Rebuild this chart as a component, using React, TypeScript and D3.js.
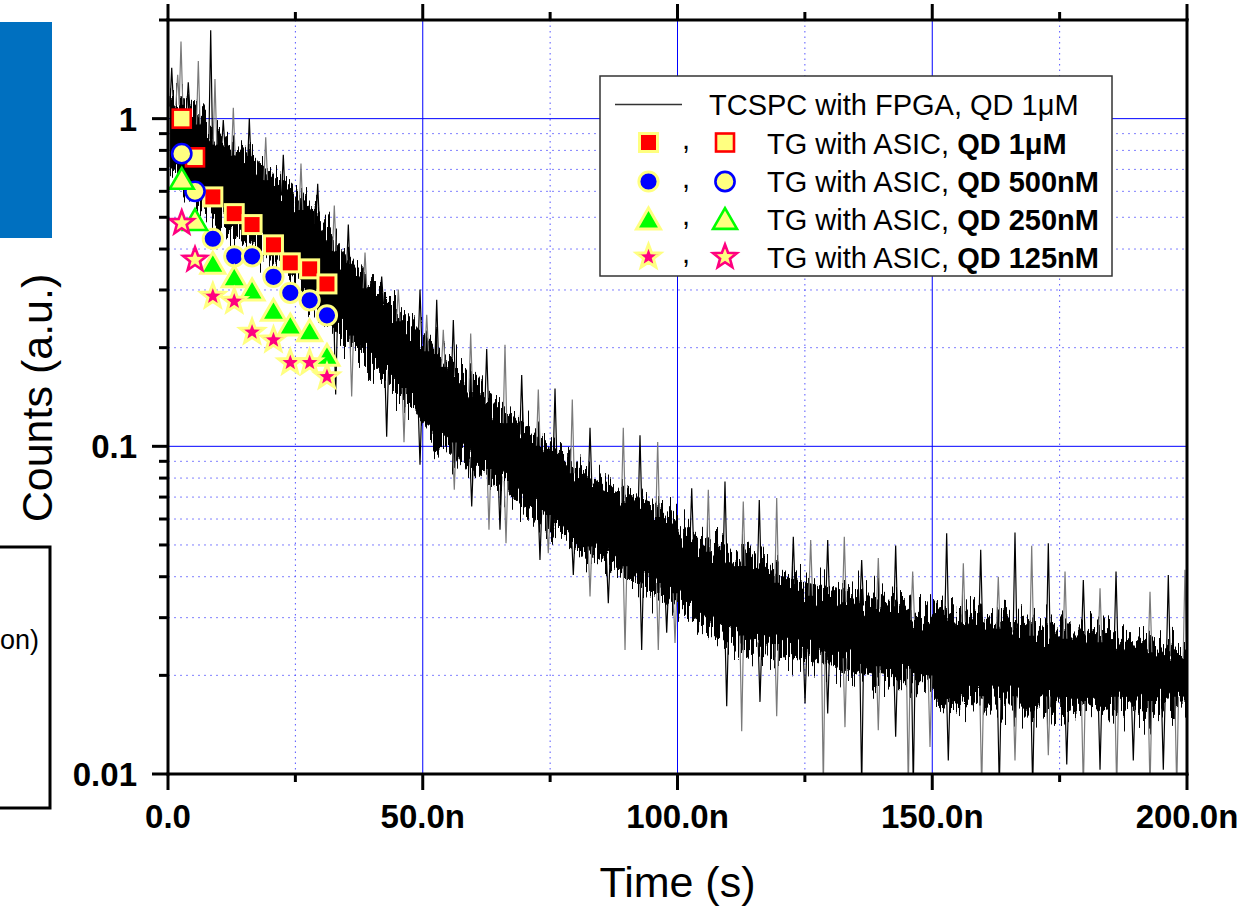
import React from 'react';
import * as d3 from 'd3';

// ---- TCSPC trace: dense band edges, time in ns ----
const bandTime = [0.4, 2.7, 9.2, 15.7, 22.4, 28.9, 35.3, 42.0, 48.5, 51.4, 59.3, 65.8, 72.4, 78.9, 85.4, 92.0, 98.5, 101.5, 109.3, 115.8, 122.5, 129.0, 135.4, 142.1, 148.6, 151.5, 159.4, 165.8, 172.5, 179.0, 185.5, 192.1, 198.6, 200];
const bandHigh = [1.18, 1.2, 0.906, 0.787, 0.638, 0.527, 0.371, 0.294, 0.232, 0.207, 0.16, 0.129, 0.11, 0.091, 0.0774, 0.0701, 0.064, 0.0556, 0.0493, 0.045, 0.0391, 0.0372, 0.0357, 0.034, 0.031, 0.0324, 0.031, 0.0295, 0.0281, 0.0281, 0.027, 0.0257, 0.0244, 0.0244];
const bandLow = [0.713, 0.638, 0.481, 0.418, 0.363, 0.261, 0.207, 0.163, 0.129, 0.11, 0.0866, 0.0737, 0.0609, 0.0507, 0.0429, 0.0383, 0.034, 0.031, 0.0257, 0.0234, 0.0228, 0.0218, 0.0203, 0.0194, 0.0194, 0.0168, 0.016, 0.016, 0.016, 0.0154, 0.016, 0.0154, 0.016, 0.016];

// spikes standing out of the band (time ns, value)
const spikeTime = [2.55, 0.73, 1.9, 3.98, 5.95, 8.38, 9.22, 10.85, 12.82, 15.96, 19.18, 22.63, 26.1, 29.38, 32.64, 35.39, 38.67, 41.94, 45.2, 49.46, 50.78, 52.74, 54.03, 56.0, 59.41, 62.55, 66.14, 69.42, 72.68, 75.96, 79.35, 82.83, 89.36, 92.64, 96.11, 102.79, 106.05, 109.32, 112.91, 116.05, 119.47, 122.73, 126.14, 129.48, 132.74, 136.15, 139.41, 142.82, 146.16, 152.83, 156.1, 159.51, 162.96, 166.24, 169.52, 172.78, 176.06, 179.65, 182.93, 186.07, 192.74, 196.33, 199.6,
  32.91, 36.05, 42.92, 46.32, 49.46, 56.19, 59.61, 63.0, 65.16, 66.34, 73.01, 74.64, 79.55, 82.83, 86.42, 89.7, 92.97, 96.23, 97.88, 99.51, 109.66, 112.6, 116.19, 119.47, 125.03, 128.62, 129.48, 132.87, 136.15, 139.41, 142.82, 145.3, 146.28, 149.56, 153.15, 159.7, 163.16, 166.24, 169.71, 172.78, 176.4, 179.65, 182.93, 186.2, 189.46, 192.74, 195.35, 197.98];
const spikeValue = [1.72, 1.43, 1.36, 1.29, 1.5, 1.86, 1.32, 0.99, 1.08, 1.0, 0.877, 0.776, 0.729, 0.633, 0.543, 0.475, 0.39, 0.33, 0.301, 0.301, 0.252, 0.28, 0.227, 0.243, 0.221, 0.198, 0.204, 0.165, 0.149, 0.15, 0.139, 0.114, 0.114, 0.108, 0.103, 0.0745, 0.0737, 0.0781, 0.0678, 0.0686, 0.0695, 0.053, 0.0518, 0.0518, 0.053, 0.045, 0.0456, 0.0498, 0.0415, 0.0543, 0.044, 0.0483, 0.04, 0.0546, 0.0497, 0.0506, 0.0415, 0.0391, 0.0369, 0.0415, 0.036, 0.0405, 0.042,
  0.144, 0.142, 0.107, 0.103, 0.0878, 0.0737, 0.0655, 0.0556, 0.0556, 0.0506, 0.045, 0.0472, 0.0405, 0.0348, 0.0332, 0.0239, 0.0239, 0.0239, 0.027, 0.0251, 0.0161, 0.0135, 0.0166, 0.015, 0.0164, 0.009, 0.0153, 0.0139, 0.009, 0.0136, 0.013, 0.009, 0.009, 0.0121, 0.011, 0.009, 0.009, 0.011, 0.009, 0.0114, 0.0107, 0.009, 0.0103, 0.009, 0.011, 0.009, 0.0103, 0.009];

// ---- time-gated (TG) ASIC points ----
const gateTime = [2.7, 5.3, 8.8, 13.0, 16.5, 20.7, 24.0, 27.8, 31.2];
const qd1uM = [1.0, 0.762, 0.577, 0.513, 0.475, 0.412, 0.363, 0.348, 0.313];
const qd500nM = [0.782, 0.6, 0.43, 0.38, 0.38, 0.329, 0.294, 0.279, 0.251];
const qd250nM = [0.657, 0.492, 0.363, 0.33, 0.301, 0.261, 0.235, 0.226, 0.19];
const qd125nM = [0.48, 0.371, 0.287, 0.277, 0.223, 0.211, 0.18, 0.18, 0.163];
const openCount = 2;

const seriesNames = ['QD 1\u03bcM', 'QD 500nM', 'QD 250nM', 'QD 125nM'];
const seriesShapes = ['square', 'circle', 'triangle', 'star'];
const seriesColors = ['#FF0000', '#0000FF', '#00FF00', '#FF0080'];
const seriesValues = [qd1uM, qd500nM, qd250nM, qd125nM];

const xMajor = [0, 50, 100, 150, 200];
const xMinor = [25, 75, 125, 175];
const xLabels = ['0.0', '50.0n', '100.0n', '150.0n', '200.0n'];
const yMajor = [0.01, 0.1, 1];
const yLabels = ['0.01', '0.1', '1'];
const yMinor = [0.02, 0.03, 0.04, 0.05, 0.06, 0.07, 0.08, 0.09, 0.2, 0.3, 0.4, 0.5, 0.6, 0.7, 0.8, 0.9, 2];

const FONT = "Arial, 'Liberation Sans', Helvetica, sans-serif";
const YELLOW = '#FFFF80';

const L = 168, R = 1187, T = 20, B = 774;

function starPath(Ro: number, Ri: number) {
  const pts: string[] = [];
  for (let i = 0; i < 10; i++) {
    const a = -Math.PI / 2 + (i * Math.PI) / 5;
    const r = i % 2 ? Ri : Ro;
    pts.push(`${(r * Math.cos(a)).toFixed(2)},${(r * Math.sin(a)).toFixed(2)}`);
  }
  return 'M' + pts.join('L') + 'Z';
}

function Marker({ shape, color, filled, x, y }: { shape: string; color: string; filled: boolean; x: number; y: number }) {
  const fill = filled ? color : YELLOW;
  const stroke = filled ? YELLOW : color;
  const sw = filled ? 3 : 2.6;
  if (shape === 'square') return <rect x={x - 9} y={y - 9} width={18} height={18} fill={fill} stroke={stroke} strokeWidth={sw} />;
  if (shape === 'circle') return <circle cx={x} cy={y} r={9.6} fill={fill} stroke={stroke} strokeWidth={sw} />;
  if (shape === 'triangle') {
    const s = 24, h = (s * Math.sqrt(3)) / 2;
    return <path d={`M${x},${y - h / 2}L${x + s / 2},${y + h / 2}L${x - s / 2},${y + h / 2}Z`} fill={fill} stroke={stroke} strokeWidth={sw} strokeLinejoin="miter" />;
  }
  return <path d={starPath(12.5, 5.2)} transform={`translate(${x},${y})`} fill={fill} stroke={stroke} strokeWidth={sw} strokeLinejoin="miter" />;
}

export default function App() {
  const x = d3.scaleLinear().domain([0, 200]).range([L, R]);
  const y = d3.scaleLog().domain([0.01, 2]).range([B, T]);

  const bandIdx = bandTime.map((_, i) => i);
  const area = d3.area<number>()
    .x((i) => x(bandTime[i]))
    .y0((i) => y(bandLow[i]))
    .y1((i) => y(bandHigh[i]));

  const hiAt = d3.scaleLinear().domain(bandTime).range(bandHigh.map(Math.log10)).clamp(true);
  const loAt = d3.scaleLinear().domain(bandTime).range(bandLow.map(Math.log10)).clamp(true);

  return (
    <svg width={1248} height={907} style={{ position: 'absolute', left: 0, top: 0, background: '#fff' }} fontFamily={FONT}>
      <defs>
        <clipPath id="plot"><rect x={L} y={T} width={R - L} height={B - T} /></clipPath>
        <filter id="rough" filterUnits="userSpaceOnUse" x={L - 20} y={0} width={R - L + 40} height={B + 30} colorInterpolationFilters="sRGB">
          <feTurbulence type="fractalNoise" baseFrequency="0.5 0.012" numOctaves={2} seed={7} result="n" />
          <feColorMatrix in="n" type="matrix" values="0 0 0 0 0.5  0 1.7 0 0 -0.35  0 0 0 0 0  0 0 0 0 1" result="m" />
          <feDisplacementMap in="SourceGraphic" in2="m" scale={44} xChannelSelector="R" yChannelSelector="G" />
        </filter>
      </defs>
      <rect width={1248} height={907} fill="#fff" />

      {/* side fragments */}
      <rect x={0} y={22} width={52} height={216} fill="#0070C0" />
      <rect x={-20} y={547} width={70} height={261} fill="none" stroke="#000" strokeWidth={3} />
      <text x={0} y={649} fontSize={27} textAnchor="start" fill="#000">on)</text>

      {/* grid */}
      <g>
        {xMinor.map((v) => <line key={'gx' + v} x1={x(v)} x2={x(v)} y1={T} y2={B} stroke="#5555ff" strokeWidth={1} strokeDasharray="1.5,4" />)}
        {yMinor.map((v) => <line key={'gy' + v} x1={L} x2={R} y1={y(v)} y2={y(v)} stroke="#5555ff" strokeWidth={1} strokeDasharray="2,4" opacity={0.75} />)}
        {xMajor.map((v) => <line key={'Gx' + v} x1={x(v)} x2={x(v)} y1={T} y2={B} stroke="#0000ff" strokeWidth={1} />)}
        {yMajor.map((v) => <line key={'Gy' + v} x1={L} x2={R} y1={y(v)} y2={y(v)} stroke="#0000ff" strokeWidth={1} />)}
      </g>

      {/* TCSPC trace */}
      <g clipPath="url(#plot)">
        <g filter="url(#rough)">
          <path d={area(bandIdx) || ''} fill="#000" stroke="#000" strokeWidth={1} />
        </g>
        {spikeTime.map((t, i) => {
          const v = spikeValue[i];
          const hi = Math.pow(10, hiAt(t));
          const lo = Math.pow(10, loAt(t));
          const edge = v > hi ? hi * 0.92 : lo * 1.08;
          const cx = x(t);
          return <path key={'s' + i} d={`M${cx - 1.8},${y(edge)}L${cx},${y(v)}L${cx + 1.8},${y(edge)}`} fill="none" stroke={i % 2 ? '#000' : '#7a7a7a'} strokeWidth={1.2} />;
        })}
      </g>

      {/* TG markers */}
      <g>
        {seriesValues.map((vals, si) => (
          <g key={'ser' + si}>
            {vals.map((v, i) => (
              <Marker key={i} shape={seriesShapes[si]} color={seriesColors[si]} filled={i >= openCount} x={x(gateTime[i])} y={y(v)} />
            ))}
          </g>
        ))}
      </g>

      {/* axes */}
      <g stroke="#000" strokeWidth={3} strokeLinecap="square">
        <line x1={L} x2={R} y1={B} y2={B} />
        <line x1={L} x2={R} y1={T} y2={T} />
        <line x1={L} x2={L} y1={T} y2={B} />
        <line x1={R} x2={R} y1={T} y2={B} />
      </g>
      <g stroke="#000" strokeWidth={3}>
        {xMajor.map((v) => <line key={'tb' + v} x1={x(v)} x2={x(v)} y1={B} y2={B + 16} />)}
        {xMinor.map((v) => <line key={'tbm' + v} x1={x(v)} x2={x(v)} y1={B} y2={B + 8} />)}
        {xMajor.map((v) => <line key={'tt' + v} x1={x(v)} x2={x(v)} y1={T} y2={T - 16} />)}
        {xMinor.map((v) => <line key={'ttm' + v} x1={x(v)} x2={x(v)} y1={T} y2={T - 8} />)}
        {yMajor.map((v) => <line key={'tl' + v} x1={L} x2={L - 16} y1={y(v)} y2={y(v)} />)}
        {yMinor.map((v) => <line key={'tlm' + v} x1={L} x2={L - 9} y1={y(v)} y2={y(v)} />)}
      </g>
      <g fontSize={33} fontWeight="bold" fill="#000">
        {xMajor.map((v, i) => <text key={'xl' + v} x={x(v)} y={828} textAnchor="middle">{xLabels[i]}</text>)}
        {yMajor.map((v, i) => <text key={'yl' + v} x={137} y={y(v) + 12} textAnchor="end">{yLabels[i]}</text>)}
      </g>
      <text x={(L + R) / 2} y={897} fontSize={43} textAnchor="middle" fill="#000">Time (s)</text>
      <text transform={`translate(52,${398}) rotate(-90)`} fontSize={43} textAnchor="middle" fill="#000">Counts (a.u.)</text>

      {/* legend */}
      <g>
        <rect x={600} y={76} width={512} height={200} fill="#fff" stroke="#333" strokeWidth={1.5} />
        <line x1={615} x2={682} y1={104.5} y2={104.5} stroke="#333" strokeWidth={1.5} />
        <text x={709} y={115} fontSize={29} fill="#000">TCSPC with FPGA, QD 1{'\u03bc'}M</text>
        {seriesNames.map((name, si) => {
          const cy = [142.5, 181.5, 218.5, 257][si];
          const base = [154, 192, 230, 268][si];
          return (
            <g key={'lg' + si}>
              <Marker shape={seriesShapes[si]} color={seriesColors[si]} filled={true} x={648.5} y={cy} />
              <text x={682} y={cy + 6} fontSize={29} fill="#000">,</text>
              <Marker shape={seriesShapes[si]} color={seriesColors[si]} filled={false} x={725} y={cy} />
              <text x={767} y={base} fontSize={29} fill="#000">TG with ASIC, <tspan fontWeight="bold">{name}</tspan></text>
            </g>
          );
        })}
      </g>
    </svg>
  );
}
